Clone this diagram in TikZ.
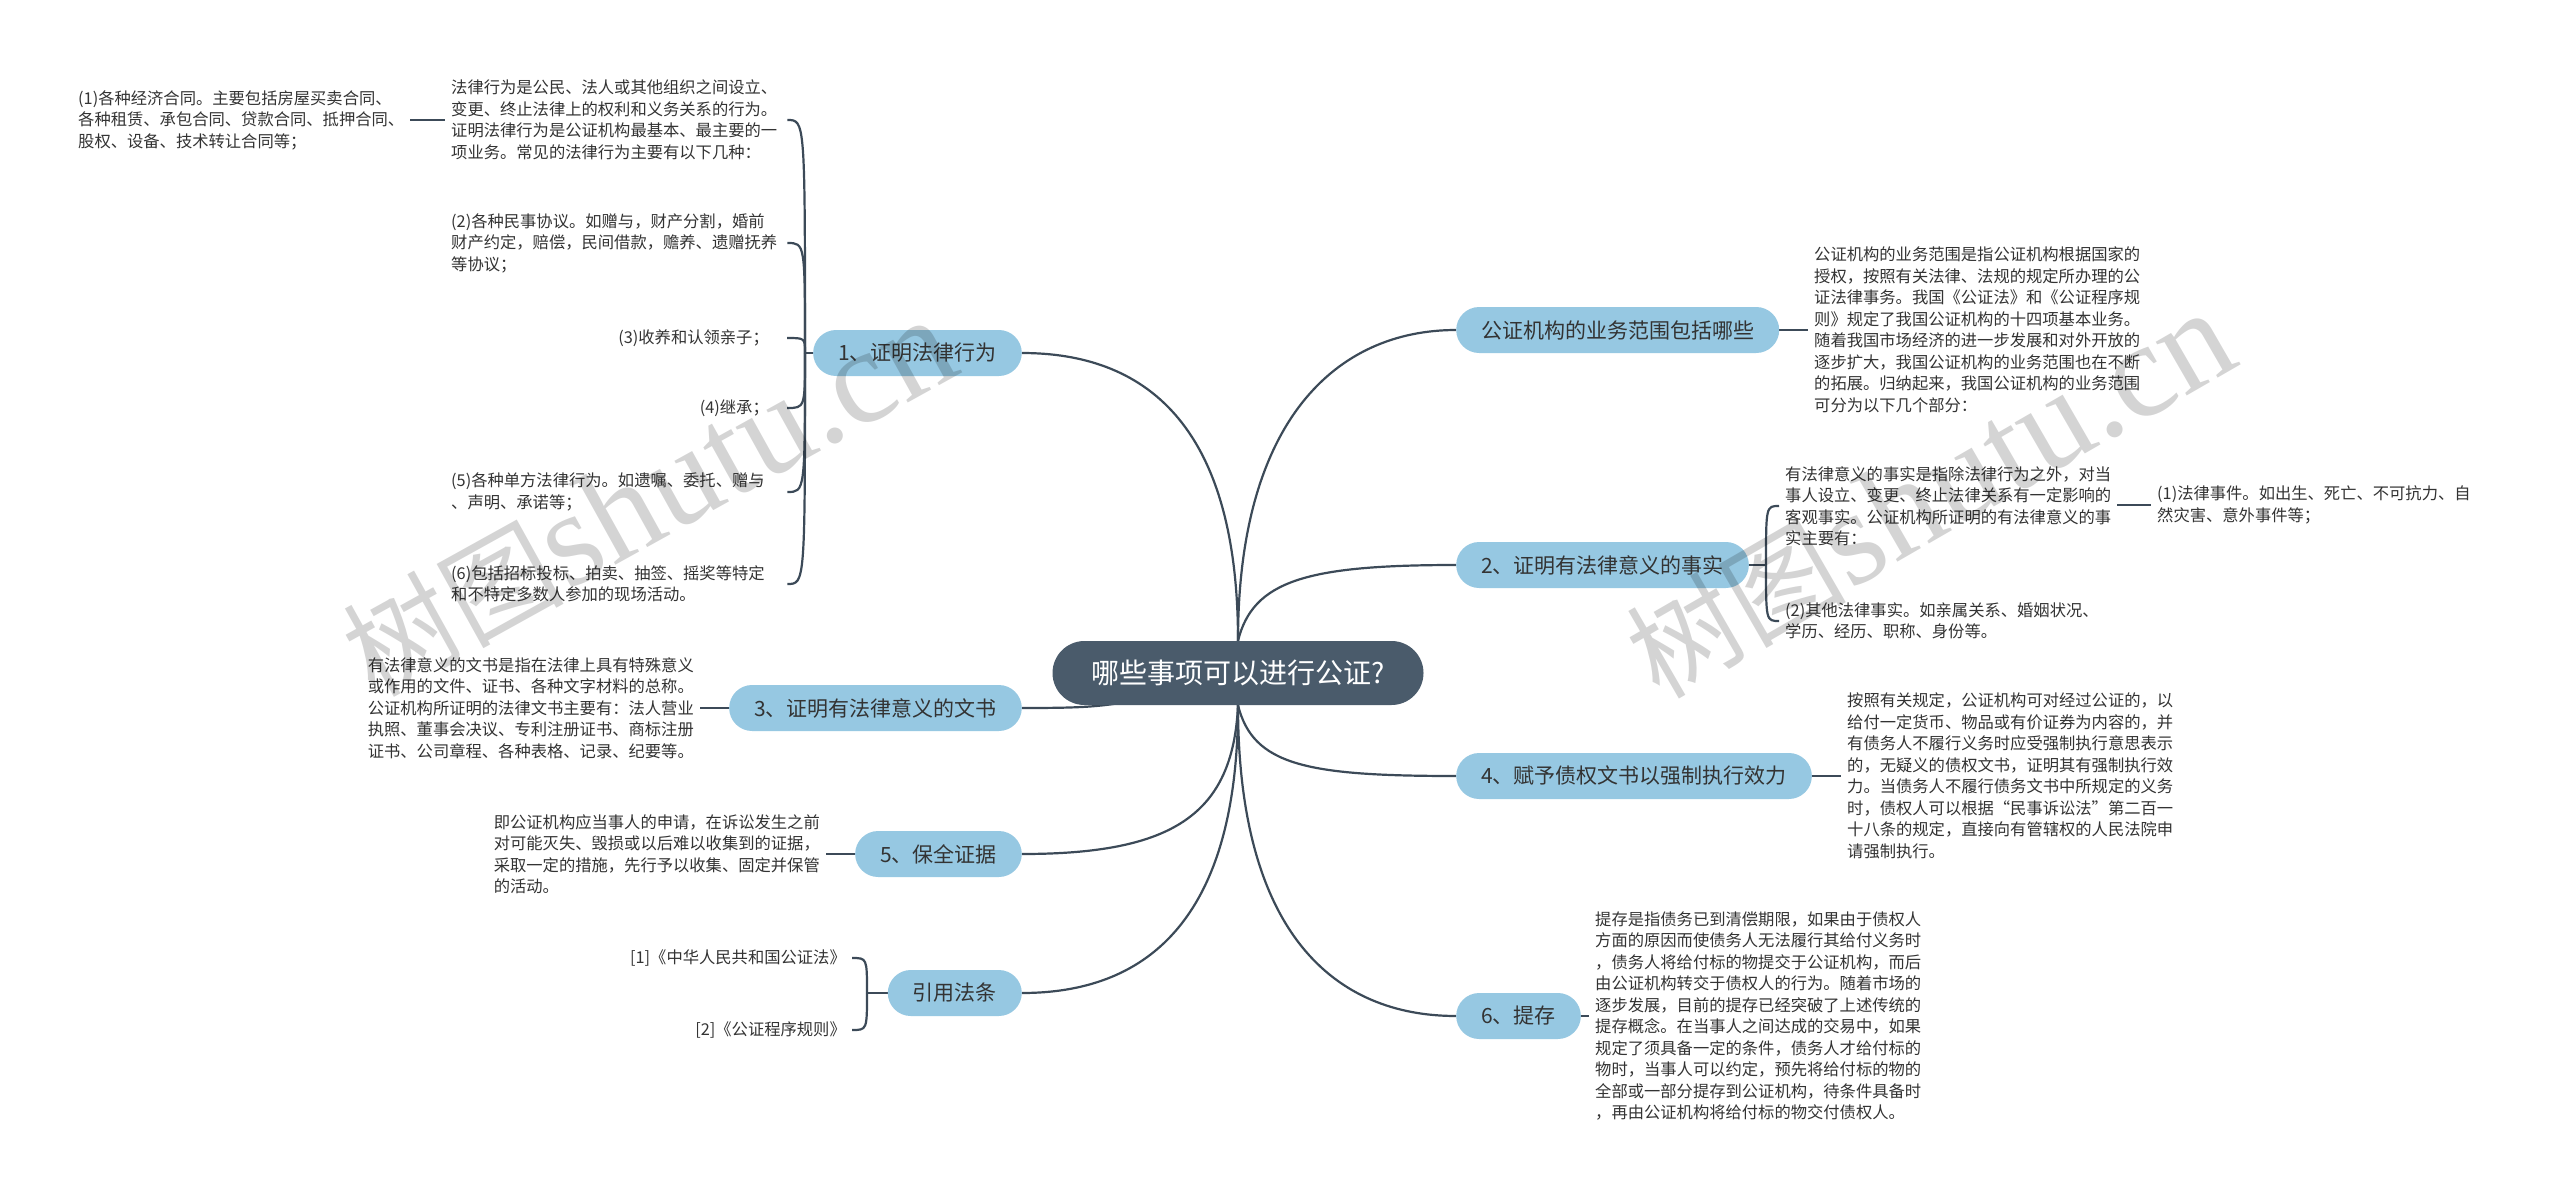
\documentclass[tikz,border=0pt]{standalone}
\usepackage{fontspec}
\setmainfont{Noto Sans CJK SC}
\newfontfamily\wmserif{Liberation Serif}
\usetikzlibrary{backgrounds,calc}
\definecolor{nodefill}{HTML}{96C8E2}
\definecolor{rootfill}{HTML}{4A5B6B}
\definecolor{linec}{HTML}{3C4A58}
\definecolor{txtc}{HTML}{333333}
\begin{document}
\begin{tikzpicture}[x=1pt,y=-1pt,
  topic/.style={fill=nodefill, text=txtc, rounded corners=23pt, minimum height=46pt, inner xsep=25pt, inner ysep=0pt, font=\fontsize{21}{25}\selectfont},
  root/.style={fill=rootfill, text=white, rounded corners=32pt, minimum height=64pt, minimum width=371pt, inner ysep=0pt, font=\fontsize{28}{32}\selectfont},
  txt/.style={text=txtc, align=left, inner xsep=6pt, inner ysep=2pt, font=\fontsize{16.3}{21.5}\selectfont},
  wide/.style={text width=330pt},
  conn/.style={draw=linec, line width=2.2pt},
  wm/.style={text=black, text opacity=0.17, inner sep=0pt}
]
\useasboundingbox (0,0) rectangle (2560,1199);

% main nodes
\node[root] (c) at (1238,673) {哪些事项可以进行公证?};
\node[topic, anchor=east] (n1) at (1022,353) {1、证明法律行为};
\node[topic, anchor=west] (fw) at (1456,330) {公证机构的业务范围包括哪些};
\node[topic, anchor=west] (n2) at (1456,565) {2、证明有法律意义的事实};
\node[topic, anchor=east] (n3) at (1022,708) {3、证明有法律意义的文书};
\node[topic, anchor=west] (n4) at (1456,776) {4、赋予债权文书以强制执行效力};
\node[topic, anchor=east] (n5) at (1022,854) {5、保全证据};
\node[topic, anchor=east] (law) at (1022,993) {引用法条};
\node[topic, anchor=west] (n6) at (1456,1016) {6、提存};

% branch 1 children
\node[txt, wide, anchor=west] (p0) at (445,120) {法律行为是公民、法人或其他组织之间设立、\\变更、终止法律上的权利和义务关系的行为。\\证明法律行为是公证机构最基本、最主要的一\\项业务。常见的法律行为主要有以下几种：};
\node[txt, anchor=west] (p1) at (72,120) {(1)各种经济合同。主要包括房屋买卖合同、\\各种租赁、承包合同、贷款合同、抵押合同、\\股权、设备、技术转让合同等；};
\node[txt, wide, anchor=west] (p2) at (445,243) {(2)各种民事协议。如赠与，财产分割，婚前\\财产约定，赔偿，民间借款，赡养、遗赠抚养\\等协议；};
\node[txt, anchor=east, inner xsep=18pt] (p3) at (787,338) {(3)收养和认领亲子；};
\node[txt, anchor=east, inner xsep=18pt] (p4) at (787,408) {(4)继承；};
\node[txt, wide, anchor=west] (p5) at (445,492) {(5)各种单方法律行为。如遗嘱、委托、赠与\\、声明、承诺等；};
\node[txt, wide, anchor=west] (p6) at (445,584) {(6)包括招标投标、拍卖、抽签、摇奖等特定\\和不特定多数人参加的现场活动。};

% right side texts
\node[txt, anchor=west] (r0) at (1808,330) {公证机构的业务范围是指公证机构根据国家的\\授权，按照有关法律、法规的规定所办理的公\\证法律事务。我国《公证法》和《公证程序规\\则》规定了我国公证机构的十四项基本业务。\\随着我国市场经济的进一步发展和对外开放的\\逐步扩大，我国公证机构的业务范围也在不断\\的拓展。归纳起来，我国公证机构的业务范围\\可分为以下几个部分：};
\node[txt, anchor=west] (q0) at (1779,506) {有法律意义的事实是指除法律行为之外，对当\\事人设立、变更、终止法律关系有一定影响的\\客观事实。公证机构所证明的有法律意义的事\\实主要有：};
\node[txt, anchor=west] (q1) at (2151,505) {(1)法律事件。如出生、死亡、不可抗力、自\\然灾害、意外事件等；};
\node[txt, anchor=west] (q2) at (1779,621) {(2)其他法律事实。如亲属关系、婚姻状况、\\学历、经历、职称、身份等。};
\node[txt, anchor=west] (r4) at (1841,776) {按照有关规定，公证机构可对经过公证的，以\\给付一定货币、物品或有价证券为内容的，并\\有债务人不履行义务时应受强制执行意思表示\\的，无疑义的债权文书，证明其有强制执行效\\力。当债务人不履行债务文书中所规定的义务\\时，债权人可以根据“民事诉讼法”第二百一\\十八条的规定，直接向有管辖权的人民法院申\\请强制执行。};
\node[txt, anchor=west] (r6) at (1589,1016) {提存是指债务已到清偿期限，如果由于债权人\\方面的原因而使债务人无法履行其给付义务时\\，债务人将给付标的物提交于公证机构，而后\\由公证机构转交于债权人的行为。随着市场的\\逐步发展，目前的提存已经突破了上述传统的\\提存概念。在当事人之间达成的交易中，如果\\规定了须具备一定的条件，债务人才给付标的\\物时，当事人可以约定，预先将给付标的物的\\全部或一部分提存到公证机构，待条件具备时\\，再由公证机构将给付标的物交付债权人。};

% left side texts
\node[txt, anchor=east] (l3) at (700,708) {有法律意义的文书是指在法律上具有特殊意义\\或作用的文件、证书、各种文字材料的总称。\\公证机构所证明的法律文书主要有：法人营业\\执照、董事会决议、专利注册证书、商标注册\\证书、公司章程、各种表格、记录、纪要等。};
\node[txt, anchor=east] (l5) at (826,854) {即公证机构应当事人的申请，在诉讼发生之前\\对可能灭失、毁损或以后难以收集到的证据，\\采取一定的措施，先行予以收集、固定并保管\\的活动。};
\node[txt, anchor=east] (k1) at (852,958) {[1]《中华人民共和国公证法》};
\node[txt, anchor=east] (k2) at (852,1030) {[2]《公证程序规则》};

\begin{scope}[on background layer]
  \fill[white] (0,0) rectangle (2560,1199);
  % root connectors
  \draw[conn] (c.north) .. controls +(0,-220) and +(120,0) .. (n1.east);
  \draw[conn] (c.north) .. controls +(0,-220) and +(-120,0) .. (fw.west);
  \draw[conn] (c.north) .. controls +(15,-60) and +(-150,0) .. (n2.west);
  \draw[conn] (c.center) .. controls +(-120,32) and +(100,0) .. (n3.east);
  \draw[conn] (c.south) .. controls +(15,60) and +(-150,0) .. (n4.west);
  \draw[conn] (c.south) .. controls +(-5,110) and +(150,0) .. (n5.east);
  \draw[conn] (c.south) .. controls +(0,220) and +(120,0) .. (law.east);
  \draw[conn] (c.south) .. controls +(0,230) and +(-120,0) .. (n6.west);
  % branch 1 brace
  \coordinate (s1) at (805,353);
  \draw[conn] (n1.west) -- (s1);
  \foreach \ch in {p0,p2,p3,p4,p5,p6}{
    \draw[conn] (s1) .. controls (s1 |- \ch.east) and (s1 |- \ch.east) .. (\ch.east);
  }
  \draw[conn] (p1.east) -- (p0.west);
  % branch 2 brace
  \coordinate (s2) at (1766,565);
  \draw[conn] (n2.east) -- (s2);
  \foreach \ch in {q0,q2}{
    \draw[conn] (s2) .. controls (s2 |- \ch.west) and (s2 |- \ch.west) .. (\ch.west);
  }
  \draw[conn] (q0.east |- q1.west) -- (q1.west);
  % law brace
  \coordinate (s3) at (867,993);
  \draw[conn] (law.west) -- (s3);
  \foreach \ch in {k1,k2}{
    \draw[conn] (s3) .. controls (s3 |- \ch.east) and (s3 |- \ch.east) .. (\ch.east);
  }
  % simple leaf connectors
  \draw[conn] (fw.east) -- (r0.west);
  \draw[conn] (n4.east) -- (r4.west);
  \draw[conn] (n6.east) -- (r6.west);
  \draw[conn] (n3.west) -- (l3.east);
  \draw[conn] (n5.west) -- (l5.east);
\end{scope}

% watermarks
\node[wm, rotate=29] (wm1) at (649,498) {\fontsize{110}{110}\selectfont 树图{\wmserif\fontsize{135}{135}\selectfont shutu.cn}};
\node[wm, rotate=30] (wm2) at (1930,495) {\fontsize{110}{110}\selectfont 树图{\wmserif\fontsize{135}{135}\selectfont shutu.cn}};
\end{tikzpicture}
\end{document}
